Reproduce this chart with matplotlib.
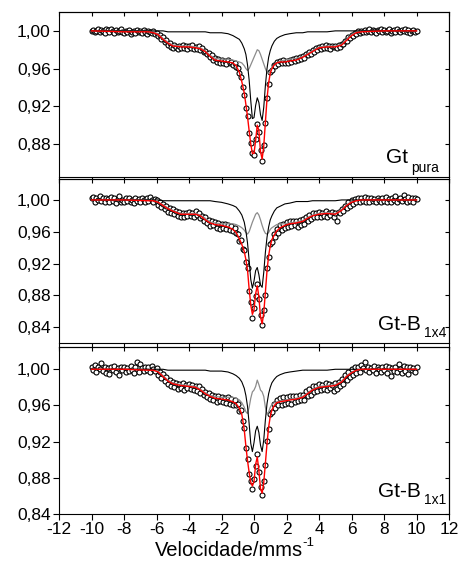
import numpy as np
import matplotlib
matplotlib.use("Agg")
import matplotlib.pyplot as plt
from matplotlib.ticker import FuncFormatter, MultipleLocator, NullFormatter

plt.rcParams['font.family'] = ['Liberation Sans', 'DejaVu Sans']

# velocity channels (mm/s)
vel = np.arange(-100, 101) / 10.0

# measured transmission, one value per channel
t_pura = [
    1.000, 1.001, 0.999, 1.000, 1.002, 0.999, 1.001, 1.000, 0.998, 1.002,
    1.001, 0.999, 1.002, 1.000, 0.998, 1.001, 0.999, 1.000, 1.002, 0.999,
    0.998, 1.000, 0.999, 1.001, 0.997, 0.999, 1.000, 0.998, 1.001, 0.999,
    1.000, 0.998, 1.001, 0.999, 0.997, 1.000, 0.999, 0.998, 1.000, 0.997,
    0.998, 0.995, 0.996, 0.991, 0.993, 0.988, 0.990, 0.985, 0.987, 0.983,
    0.982, 0.985, 0.983, 0.981, 0.984, 0.982, 0.985, 0.982, 0.984, 0.981,
    0.984, 0.982, 0.985, 0.981, 0.983, 0.981, 0.984, 0.980, 0.982, 0.978,
    0.979, 0.975, 0.977, 0.972, 0.974, 0.969, 0.971, 0.967, 0.970, 0.966,
    0.969, 0.966, 0.968, 0.965, 0.969, 0.966, 0.967, 0.964, 0.966, 0.962,
    0.961, 0.955, 0.951, 0.940, 0.932, 0.918, 0.910, 0.892, 0.881, 0.871,
    0.868, 0.885, 0.901, 0.893, 0.874, 0.862, 0.879, 0.902, 0.929, 0.944,
    0.956, 0.959, 0.964, 0.963, 0.967, 0.965, 0.968, 0.966, 0.969, 0.966,
    0.968, 0.966, 0.969, 0.967, 0.970, 0.968, 0.971, 0.969, 0.972, 0.970,
    0.973, 0.971, 0.975, 0.974, 0.978, 0.976, 0.980, 0.978, 0.982, 0.980,
    0.983, 0.981, 0.984, 0.982, 0.985, 0.982, 0.984, 0.981, 0.984, 0.983,
    0.984, 0.982, 0.985, 0.983, 0.986, 0.986, 0.989, 0.989, 0.993, 0.992,
    0.996, 0.995, 0.998, 0.997, 1.000, 0.998, 1.000, 0.999, 1.001, 0.999,
    1.000, 1.002, 0.999, 1.001, 1.000, 0.998, 1.001, 1.000, 1.002, 0.999,
    1.001, 0.999, 1.000, 1.002, 0.998, 1.000, 1.001, 0.999, 1.002, 1.000,
    0.999, 1.001, 1.000, 1.002, 0.999, 1.001, 0.998, 1.000, 1.001, 0.999,
    1.000,
]
t_b1x4 = [
    1.002, 1.004, 0.998, 1.003, 1.000, 1.005, 0.999, 1.002, 0.997, 1.003,
    1.001, 0.998, 1.004, 0.999, 1.002, 0.996, 1.001, 1.005, 0.998, 1.000,
    0.997, 1.002, 0.999, 1.003, 0.998, 1.000, 0.996, 1.002, 0.999, 1.001,
    0.998, 1.003, 1.000, 0.997, 1.002, 0.999, 1.004, 1.000, 0.998, 1.001,
    1.000, 0.994, 0.998, 0.991, 0.995, 0.989, 0.992, 0.985, 0.990, 0.983,
    0.988, 0.982, 0.986, 0.980, 0.985, 0.979, 0.984, 0.978, 0.983, 0.980,
    0.985, 0.980, 0.984, 0.979, 0.986, 0.981, 0.983, 0.977, 0.980, 0.974,
    0.978, 0.971, 0.975, 0.967, 0.973, 0.968, 0.972, 0.965, 0.971, 0.964,
    0.970, 0.965, 0.970, 0.963, 0.968, 0.962, 0.967, 0.961, 0.965, 0.959,
    0.957, 0.948, 0.950, 0.938, 0.937, 0.922, 0.914, 0.886, 0.871, 0.852,
    0.864, 0.879, 0.894, 0.875, 0.855, 0.842, 0.861, 0.881, 0.914, 0.928,
    0.945, 0.947, 0.957, 0.953, 0.964, 0.959, 0.968, 0.962, 0.970, 0.965,
    0.972, 0.966, 0.973, 0.967, 0.974, 0.968, 0.973, 0.966, 0.975, 0.969,
    0.976, 0.970, 0.979, 0.974, 0.981, 0.976, 0.983, 0.978, 0.984, 0.979,
    0.985, 0.979, 0.984, 0.980, 0.986, 0.979, 0.984, 0.981, 0.985, 0.978,
    0.984, 0.973, 0.985, 0.983, 0.989, 0.986, 0.993, 0.990, 0.997, 0.993,
    1.000, 0.995, 1.001, 0.997, 1.003, 0.998, 1.002, 0.999, 1.004, 0.998,
    1.002, 0.998, 1.003, 0.999, 1.001, 0.997, 1.002, 1.000, 0.998, 1.003,
    0.999, 1.004, 0.998, 1.001, 0.997, 1.002, 1.000, 1.005, 0.998, 1.001,
    1.003, 0.999, 1.006, 1.001, 0.998, 1.004, 0.999, 1.002, 0.997, 1.003,
    1.001,
]
t_b1x1 = [
    1.003, 0.999, 1.005, 0.997, 1.002, 1.000, 1.007, 0.998, 1.003, 0.996,
    1.001, 0.995, 1.003, 0.999, 1.004, 0.997, 1.001, 0.994, 1.002, 0.999,
    1.003, 0.997, 1.001, 0.998, 1.004, 0.999, 0.996, 1.002, 1.008, 0.997,
    1.006, 1.001, 0.998, 1.003, 0.999, 1.002, 0.997, 1.004, 1.000, 0.998,
    1.001, 0.994, 0.997, 0.990, 0.995, 0.987, 0.991, 0.984, 0.988, 0.982,
    0.986, 0.980, 0.985, 0.978, 0.984, 0.979, 0.985, 0.977, 0.983, 0.979,
    0.984, 0.978, 0.983, 0.977, 0.982, 0.976, 0.981, 0.974, 0.978, 0.972,
    0.975, 0.969, 0.974, 0.967, 0.972, 0.966, 0.971, 0.964, 0.970, 0.965,
    0.969, 0.964, 0.968, 0.963, 0.969, 0.962, 0.967, 0.961, 0.966, 0.960,
    0.962, 0.954, 0.955, 0.943, 0.935, 0.913, 0.901, 0.884, 0.877, 0.868,
    0.879, 0.893, 0.906, 0.886, 0.870, 0.861, 0.877, 0.894, 0.921, 0.934,
    0.951, 0.953, 0.962, 0.957, 0.966, 0.960, 0.968, 0.961, 0.969, 0.962,
    0.969, 0.963, 0.970, 0.962, 0.971, 0.964, 0.971, 0.965, 0.972, 0.966,
    0.972, 0.966, 0.976, 0.970, 0.978, 0.972, 0.981, 0.975, 0.982, 0.976,
    0.984, 0.977, 0.983, 0.978, 0.985, 0.977, 0.984, 0.979, 0.983, 0.976,
    0.985, 0.978, 0.986, 0.981, 0.989, 0.984, 0.994, 0.988, 0.997, 0.992,
    1.000, 0.994, 1.002, 0.996, 1.003, 0.997, 1.005, 1.001, 1.008, 0.999,
    1.003, 0.997, 1.001, 0.999, 1.004, 0.996, 1.002, 1.000, 0.997, 1.003,
    0.999, 1.004, 0.996, 1.002, 0.993, 1.001, 0.998, 1.003, 0.997, 1.006,
    1.000, 0.996, 1.004, 0.998, 1.002, 0.995, 1.003, 0.999, 1.001, 0.997,
    1.002,
]

# velocities at which the fitted curves are tabulated
fit_v = [-10, -8, -6.5, -6.2, -5.9, -5.6, -5.3, -5.0,
         -4.5, -4.0, -3.6, -3.3, -3.0, -2.7, -2.4, -2.0,
         -1.6, -1.3, -1.1, -0.9, -0.75, -0.6, -0.5, -0.4,
         -0.3, -0.2, -0.1, 0.0, 0.1, 0.2, 0.3, 0.4,
         0.5, 0.6, 0.7, 0.8, 0.9, 1.0, 1.1, 1.25,
         1.4, 1.6, 1.9, 2.2, 2.6, 3.0, 3.3, 3.6,
         4.0, 4.5, 5.0, 5.4, 5.7, 6.0, 6.3, 6.6,
         8, 10]

# Gt pura: total fit, doublet, hyperfine distribution
fit_pura = [1.000, 0.999, 0.999, 0.998, 0.996, 0.991, 0.987, 0.984,
            0.983, 0.983, 0.982, 0.981, 0.978, 0.973, 0.969, 0.968,
            0.967, 0.966, 0.963, 0.956, 0.946, 0.934, 0.922, 0.909,
            0.894, 0.880, 0.870, 0.870, 0.884, 0.900, 0.894, 0.872,
            0.864, 0.878, 0.903, 0.928, 0.945, 0.955, 0.960, 0.964,
            0.966, 0.967, 0.967, 0.968, 0.969, 0.972, 0.975, 0.978,
            0.982, 0.983, 0.983, 0.985, 0.990, 0.995, 0.998, 0.999,
            1.000, 1.000]
dbl_pura = [1.000, 1.000, 1.000, 1.000, 1.000, 1.000, 0.999, 0.999,
            0.999, 0.999, 0.999, 0.999, 0.999, 0.998, 0.998, 0.998,
            0.997, 0.995, 0.993, 0.991, 0.987, 0.981, 0.975, 0.964,
            0.948, 0.926, 0.907, 0.908, 0.921, 0.929, 0.924, 0.911,
            0.905, 0.919, 0.942, 0.960, 0.972, 0.979, 0.984, 0.989,
            0.992, 0.994, 0.996, 0.997, 0.998, 0.998, 0.999, 0.999,
            0.999, 0.999, 1.000, 1.000, 1.000, 1.000, 1.000, 1.000,
            1.000, 1.000]
hf_pura = [1.000, 1.000, 1.000, 0.999, 0.997, 0.992, 0.988, 0.985,
           0.984, 0.984, 0.983, 0.982, 0.979, 0.974, 0.971, 0.970,
           0.970, 0.969, 0.968, 0.967, 0.966, 0.963, 0.960, 0.958,
           0.960, 0.964, 0.968, 0.972, 0.976, 0.980, 0.979, 0.975,
           0.970, 0.965, 0.960, 0.956, 0.955, 0.957, 0.961, 0.964,
           0.966, 0.968, 0.969, 0.970, 0.971, 0.973, 0.976, 0.979,
           0.983, 0.984, 0.984, 0.986, 0.991, 0.996, 0.999, 1.000,
           1.000, 1.000]

# Gt-B 1x4
fit_b1x4 = [1.000, 1.000, 0.999, 0.999, 0.997, 0.993, 0.989, 0.986,
            0.982, 0.982, 0.982, 0.980, 0.975, 0.971, 0.969, 0.968,
            0.966, 0.963, 0.959, 0.951, 0.944, 0.935, 0.925, 0.912,
            0.888, 0.868, 0.856, 0.862, 0.882, 0.892, 0.878, 0.853,
            0.844, 0.858, 0.884, 0.911, 0.930, 0.942, 0.950, 0.956,
            0.961, 0.965, 0.968, 0.970, 0.971, 0.973, 0.977, 0.980,
            0.982, 0.983, 0.982, 0.987, 0.993, 0.997, 0.999, 1.000,
            1.000, 1.000]
dbl_b1x4 = [1.000, 1.000, 1.000, 1.000, 1.000, 0.999, 0.999, 0.999,
            0.999, 0.999, 0.999, 0.999, 0.999, 0.999, 0.998, 0.997,
            0.995, 0.993, 0.991, 0.986, 0.981, 0.972, 0.961, 0.946,
            0.924, 0.900, 0.889, 0.898, 0.911, 0.915, 0.906, 0.893,
            0.890, 0.909, 0.934, 0.953, 0.966, 0.975, 0.980, 0.986,
            0.990, 0.992, 0.995, 0.996, 0.998, 0.998, 0.998, 0.999,
            0.999, 0.999, 0.999, 1.000, 1.000, 1.000, 1.000, 1.000,
            1.000, 1.000]
hf_b1x4 = [1.000, 1.000, 1.000, 0.999, 0.997, 0.994, 0.990, 0.987,
           0.983, 0.983, 0.983, 0.981, 0.977, 0.972, 0.971, 0.970,
           0.970, 0.970, 0.969, 0.967, 0.965, 0.962, 0.959, 0.957,
           0.960, 0.966, 0.972, 0.977, 0.982, 0.984, 0.981, 0.975,
           0.968, 0.962, 0.958, 0.957, 0.959, 0.963, 0.965, 0.967,
           0.969, 0.970, 0.970, 0.971, 0.972, 0.974, 0.978, 0.981,
           0.983, 0.984, 0.983, 0.988, 0.994, 0.998, 0.999, 1.000,
           1.000, 1.000]

# Gt-B 1x1
fit_b1x1 = [1.000, 1.000, 0.999, 0.999, 0.997, 0.992, 0.987, 0.984,
            0.982, 0.981, 0.980, 0.977, 0.973, 0.970, 0.968, 0.967,
            0.966, 0.964, 0.962, 0.957, 0.950, 0.933, 0.915, 0.899,
            0.886, 0.875, 0.871, 0.876, 0.895, 0.903, 0.888, 0.868,
            0.863, 0.875, 0.896, 0.918, 0.936, 0.948, 0.955, 0.960,
            0.963, 0.964, 0.965, 0.966, 0.967, 0.969, 0.973, 0.977,
            0.980, 0.981, 0.982, 0.986, 0.992, 0.996, 0.999, 1.000,
            1.000, 1.000]
dbl_b1x1 = [1.000, 1.000, 1.000, 1.000, 1.000, 1.000, 0.999, 0.999,
            0.999, 0.999, 0.999, 0.999, 0.999, 0.998, 0.998, 0.998,
            0.997, 0.995, 0.993, 0.990, 0.986, 0.979, 0.971, 0.959,
            0.940, 0.918, 0.909, 0.919, 0.932, 0.937, 0.930, 0.916,
            0.909, 0.922, 0.944, 0.962, 0.973, 0.980, 0.985, 0.989,
            0.992, 0.994, 0.996, 0.997, 0.998, 0.999, 0.999, 0.999,
            0.999, 0.999, 1.000, 1.000, 1.000, 1.000, 1.000, 1.000,
            1.000, 1.000]
hf_b1x1 = [1.000, 1.000, 1.000, 0.999, 0.998, 0.993, 0.988, 0.985,
           0.983, 0.982, 0.981, 0.978, 0.974, 0.971, 0.970, 0.969,
           0.969, 0.969, 0.968, 0.966, 0.963, 0.958, 0.953, 0.951,
           0.958, 0.968, 0.975, 0.977, 0.981, 0.988, 0.983, 0.977,
           0.975, 0.970, 0.958, 0.950, 0.953, 0.958, 0.961, 0.963,
           0.964, 0.965, 0.966, 0.967, 0.968, 0.970, 0.974, 0.978,
           0.981, 0.982, 0.983, 0.987, 0.993, 0.997, 0.999, 1.000,
           1.000, 1.000]

panels = [
    ("Gt", "pura", t_pura, fit_pura, dbl_pura, hf_pura, (0.845, 1.020), [0.88, 0.92, 0.96, 1.00]),
    ("Gt-B", "1x4", t_b1x4, fit_b1x4, dbl_b1x4, hf_b1x4, (0.820, 1.026), [0.84, 0.88, 0.92, 0.96, 1.00]),
    ("Gt-B", "1x1", t_b1x1, fit_b1x1, dbl_b1x1, hf_b1x1, (0.840, 1.025), [0.84, 0.88, 0.92, 0.96, 1.00]),
]
# axes boxes in figure fractions [left, bottom, width, height]
boxes = [
    [0.1283, 0.6878, 0.8478, 0.2910],
    [0.1283, 0.3951, 0.8478, 0.2887],
    [0.1283, 0.0935, 0.8478, 0.2951],
]
# sample label: (x of name's right end, name baseline, subscript baseline) in axes fractions
label_pos = [
    (0.895, 0.085, 0.030),
    (0.929, 0.080, 0.039),
    (0.929, 0.104, 0.060),
]

comma = FuncFormatter(lambda v, _: f"{v:.2f}".replace(".", ","))
plain = FuncFormatter(lambda v, _: f"{int(round(v))}")

fig = plt.figure(figsize=(4.6, 5.67), dpi=100)

for i, (name, sub, trans, fit, dbl, hf, ylim, yt) in enumerate(panels):
    ax = fig.add_axes(boxes[i])
    ax.plot(vel, trans, 'o', ms=3.6, mfc='white', mec='black', mew=0.8, zorder=2)
    ax.plot(fit_v, hf, color='#8c8c8c', lw=0.9, zorder=3)
    ax.plot(fit_v, dbl, color='black', lw=0.8, zorder=3)
    ax.plot(fit_v, fit, color='red', lw=1.0, zorder=4)

    ax.set_xlim(-12, 12)
    ax.set_ylim(*ylim)
    ax.set_yticks(yt)
    ax.yaxis.set_major_formatter(comma)
    ax.xaxis.set_major_locator(MultipleLocator(2))
    ax.xaxis.set_major_formatter(plain)
    ax.tick_params(axis='both', which='major', labelsize=12.5, length=4, width=0.8, pad=2,
                   direction='out')
    if i < 2:
        ax.tick_params(axis='x', labelbottom=False)
    for s in ax.spines.values():
        s.set_linewidth(0.8)

    # mirrored ticks on the top and right edges, pointing inwards
    top = ax.secondary_xaxis('top')
    top.xaxis.set_major_locator(MultipleLocator(2))
    top.xaxis.set_major_formatter(NullFormatter())
    top.tick_params(direction='in', length=3, width=0.8)
    top.spines['top'].set_linewidth(0.8)
    right = ax.secondary_yaxis('right')
    right.set_yticks(yt)
    right.yaxis.set_major_formatter(NullFormatter())
    right.tick_params(direction='in', length=3, width=0.8)
    right.spines['right'].set_linewidth(0.8)

    nx, ny, sy = label_pos[i]
    ax.text(nx, ny, name, transform=ax.transAxes, ha='right', va='baseline', fontsize=15)
    ax.text(nx + 0.008, sy, sub, transform=ax.transAxes, ha='left', va='baseline', fontsize=10)

fig.text(155 / 460, 1 - 556 / 567, "Velocidade/mms", ha='left', va='baseline', fontsize=14.5)
fig.text(302 / 460, 1 - 546 / 567, "-1", ha='left', va='baseline', fontsize=9.5)

fig.savefig("out.png", dpi=100)
